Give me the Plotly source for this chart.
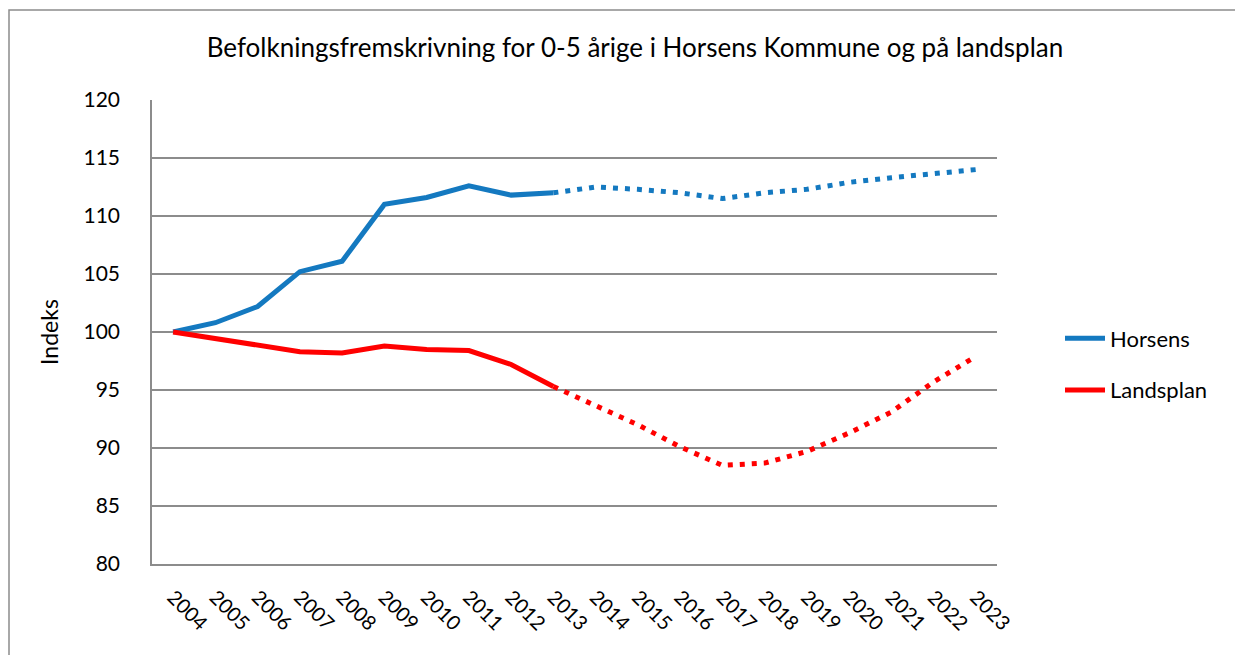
import plotly.graph_objects as go

years = [str(y) for y in range(2004, 2024)]
horsens = [100.0, 100.8, 102.2, 105.2, 106.1, 111.0, 111.6, 112.6, 111.8, 112.0,
           112.5, 112.3, 112.0, 111.5, 112.0, 112.3, 112.9, 113.3, 113.7, 114.0]
landsplan = [100.0, 99.4, 98.9, 98.3, 98.2, 98.8, 98.5, 98.4, 97.2, 95.3,
             93.6, 92.0, 90.1, 88.5, 88.7, 89.7, 91.3, 93.1, 95.7, 97.9]
y_ticks = [80, 85, 90, 95, 100, 105, 110, 115, 120]
last_actual = 2013

split = years.index(str(last_actual)) + 1
FONT = "Lato, Carlito, sans-serif"
BLUE = "#1479c0"
RED = "#ff0000"
GRID = "#8c8c8c"

fig = go.Figure()

# actual values (solid) and projection (dotted)
for name, vals, color, grp in [("Horsens", horsens, BLUE, "a"), ("Landsplan", landsplan, RED, "b")]:
    fig.add_trace(go.Scatter(x=years[:split], y=vals[:split], mode="lines", name=name,
                             line={"color": color, "width": 5}, legendgroup=grp))
    fig.add_trace(go.Scatter(x=years[split - 1:], y=vals[split - 1:], mode="lines", name=name,
                             line={"color": color, "width": 5, "dash": "5px,7px"},
                             legendgroup=grp, showlegend=False))

# outer chart frame (only top/left visible in the picture)
fig.add_shape(type="rect", xref="paper", yref="paper",
              x0=(9 - 152) / 845, x1=1.6, y0=-0.5, y1=(564 - 10) / 464,
              line={"color": "#8c8c8c", "width": 1.5}, layer="below")

# page body has an 8px margin, so the figure is 8px smaller than the window
fig.update_layout(
    width=1235, height=647,
    margin={"l": 144, "r": 246, "t": 92, "b": 91},
    paper_bgcolor="white", plot_bgcolor="white",
    font={"family": FONT, "size": 20, "color": "black"},
    title={"text": "Befolkningsfremskrivning for 0-5 årige i Horsens Kommune og på landsplan",
           "x": (635 - 8) / 1235, "xanchor": "center", "y": 1 - 40 / 647, "yanchor": "middle",
           "font": {"size": 26}},
    legend={"x": (1060 - 152) / 845, "y": 0.43, "xanchor": "left", "yanchor": "middle",
            "traceorder": "grouped", "tracegroupgap": 20, "font": {"size": 22},
            "itemwidth": 40},
    showlegend=True,
)

fig.update_xaxes(type="category", range=[-0.5, len(years) - 0.5], showgrid=False,
                 showline=True, linecolor=GRID, linewidth=1.5,
                 tickangle=45, ticks="", ticklabelstandoff=12, tickfont={"size": 20})
fig.update_yaxes(range=[80, 120], tickvals=y_ticks, showgrid=True, gridcolor=GRID, gridwidth=1.5,
                 showline=True, linecolor=GRID, linewidth=1.5, zeroline=False, ticks="",
                 ticklabelstandoff=26, tickfont={"size": 21},
                 title={"text": "Indeks", "font": {"size": 23}, "standoff": 18})

fig.write_html("out.html")
